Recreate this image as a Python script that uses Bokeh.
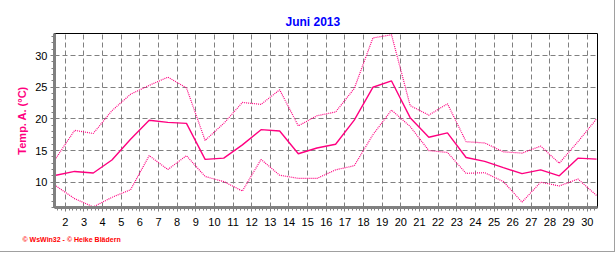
from bokeh.plotting import figure
from bokeh.models import ColumnDataSource, Title, FixedTicker
from bokeh.embed import file_html
from bokeh.resources import INLINE

days = list(range(1, 31))
temp_mean = [11.1, 11.7, 11.45, 13.5, 16.8, 19.8, 19.45, 19.3, 13.6, 13.8,
             15.9, 18.3, 18.1, 14.5, 15.4, 16.0, 19.8, 25.0, 26.0, 20.2,
             17.1, 17.8, 13.9, 13.3, 12.3, 11.35, 11.95, 11.0, 13.8, 13.65]
temp_max = [13.8, 18.2, 17.7, 21.3, 23.9, 25.3, 26.6, 24.9, 16.6, 19.3,
            22.6, 22.3, 24.6, 18.9, 20.5, 21.1, 24.8, 32.8, 33.3, 22.1,
            20.6, 22.4, 16.4, 16.2, 14.8, 14.6, 15.7, 13.0, 16.4, 20.0]
temp_min = [9.4, 7.4, 6.1, 7.6, 8.8, 14.2, 12.0, 14.2, 10.9, 10.1,
            8.6, 13.6, 11.1, 10.6, 10.6, 11.95, 12.6, 17.5, 21.4, 18.8,
            15.0, 14.7, 11.4, 11.5, 10.1, 6.85, 10.0, 9.4, 10.5, 7.9]
x_ticks = list(range(2, 31))
y_ticks = [10, 15, 20, 25, 30]

title_text = "Juni 2013"
y_label = "Temp. A. (°C)"
footer_text = "© WsWin32  -  © Heike Blädern"

xpos = [d + 0.5 for d in days]
src = ColumnDataSource(data=dict(x=xpos, mean=temp_mean, tmax=temp_max, tmin=temp_min))

PINK = "#ff0080"

p = figure(width=615, height=252, output_backend="svg", toolbar_location=None,
           x_range=(1.42, 30.55), y_range=(6.0, 33.5),
           min_border_left=54, min_border_right=18, min_border_top=33, min_border_bottom=45,
           background_fill_color="white", border_fill_color="white")
p.styles = {"border-right": "1px solid #a0a0a0", "border-bottom": "1px solid #a0a0a0"}

p.outline_line_color = "black"
p.outline_line_width = 1

p.line("x", "tmax", source=src, color=PINK, line_width=1.2, line_dash="1 1")
p.line("x", "tmin", source=src, color=PINK, line_width=1.2, line_dash="1 1")
p.line("x", "mean", source=src, color=PINK, line_width=1.4)

for ax in (p.xaxis, p.yaxis):
    ax.axis_line_color = "#808080"
    ax.axis_line_width = 3
    ax.major_tick_line_color = "#808080"
    ax.minor_tick_line_color = "#808080"
    ax.major_tick_in = 0
    ax.minor_tick_in = 0
    ax.major_tick_out = 4
    ax.minor_tick_out = 3
    ax.major_label_text_font = "Liberation Sans"
    ax.major_label_text_font_size = "11px"
    ax.major_label_text_color = "black"

p.xaxis.ticker = FixedTicker(ticks=x_ticks,
                             minor_ticks=[d + k / 5 for d in range(1, 31) for k in range(5)])
p.yaxis.ticker = FixedTicker(ticks=y_ticks, minor_ticks=list(range(6, 34)))
p.xaxis.major_label_standoff = 6
p.yaxis.major_label_standoff = 3

p.yaxis.axis_label = y_label
p.yaxis.axis_label_text_color = PINK
p.yaxis.axis_label_text_font = "Liberation Sans"
p.yaxis.axis_label_text_font_style = "bold"
p.yaxis.axis_label_text_font_size = "11px"
p.yaxis.axis_label_standoff = 4

p.xgrid.ticker = FixedTicker(ticks=x_ticks)
p.ygrid.ticker = FixedTicker(ticks=y_ticks)
for g in (p.xgrid, p.ygrid):
    g.grid_line_color = "#808080"
    g.grid_line_dash = "5 3"
    g.grid_line_width = 1

p.title = Title(text=title_text, align="left", offset=231, text_color="#0000ff",
                text_font="Liberation Sans", text_font_style="bold", text_font_size="12px",
                standoff=9)
p.add_layout(Title(text=footer_text, align="left", offset=-32, text_color="#ff0000",
                   text_font="Liberation Sans", text_font_style="bold", text_font_size="7px"),
             "below")

open("out.html", "w").write(file_html(p, INLINE))
